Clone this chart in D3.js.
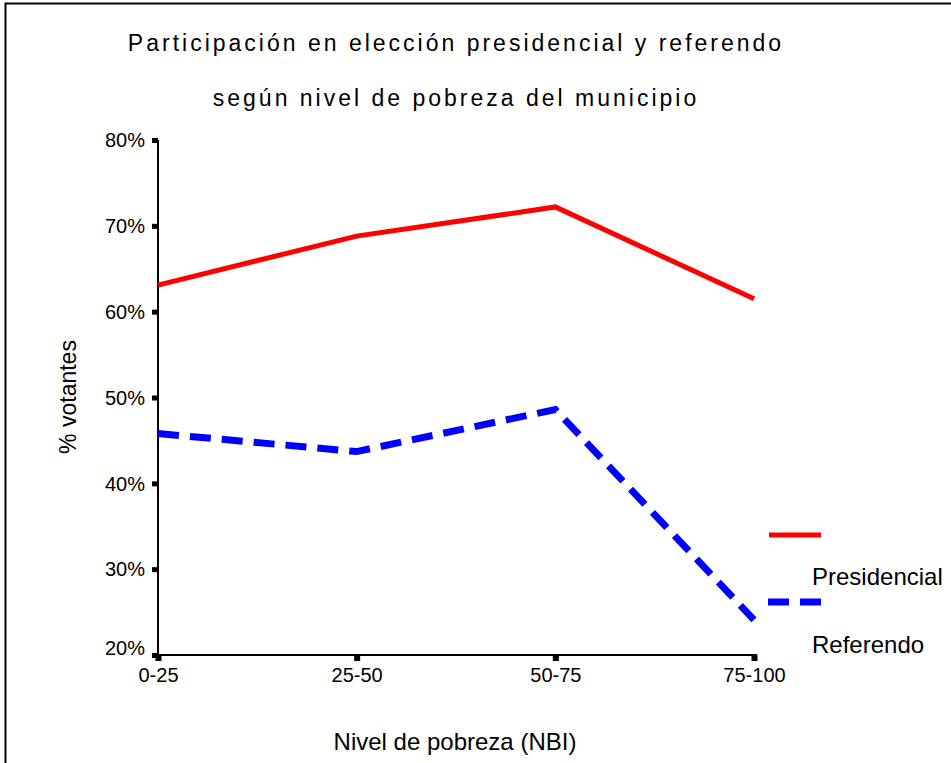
<!DOCTYPE html>
<html>
<head>
<meta charset="utf-8">
<script src="https://cdn.jsdelivr.net/npm/d3@7"></script>
<style>
  body { margin: 0; background: #fff; }
  svg { display: block; font-family: "Liberation Sans", Arial, sans-serif; }
</style>
</head>
<body>
<div class="chart"></div>
<script>
// data
const categories = ["0-25", "25-50", "50-75", "75-100"];
const presidencial = [63.1, 68.8, 72.2, 61.5];
const referendo = [45.8, 43.7, 48.6, 24.1];
const yTicks = [20, 30, 40, 50, 60, 70, 80];
const seriesNames = ["Presidencial", "Referendo"];

let width = 951, height = 763;

let svg = d3.select(".chart")
    .append("svg")
    .attr("width", width)
    .attr("height", height);

// frame
svg.append("path")
    .attr("d", "M5.5,763 V3.5 H951")
    .attr("fill", "none")
    .attr("stroke", "#000")
    .attr("stroke-width", 2);

// scales
let x = d3.scalePoint()
    .domain(categories)
    .range([158, 754]);

let y = d3.scaleLinear()
    .domain([20, 80])
    .range([655, 140]);

// title
svg.append("text")
    .attr("x", 456).attr("y", 51)
    .attr("text-anchor", "middle")
    .style("font-size", "23px")
    .style("letter-spacing", "3px")
    .text("Participación en elección presidencial y referendo");
svg.append("text")
    .attr("x", 456).attr("y", 106)
    .attr("text-anchor", "middle")
    .style("font-size", "23px")
    .style("letter-spacing", "3px")
    .text("según nivel de pobreza del municipio");

// y axis
let yAxis = svg.append("g")
    .attr("transform", "translate(158,0)")
    .call(d3.axisLeft(y).tickValues(yTicks).tickFormat(d => d + "%").tickSize(0).tickPadding(13));
yAxis.select(".domain").attr("stroke", "#000").attr("stroke-width", 2).attr("d", "M0," + y(80) + "V" + (y(20) + 1));
yAxis.selectAll("text")
    .style("font-size", "20px")
    .attr("fill", "#000")
    .attr("dy", d => d === 20 ? "-0.05em" : "0.34em");
yAxis.selectAll(".tick").append("rect")
    .attr("x", -6).attr("y", -2.5)
    .attr("width", 6).attr("height", 5)
    .attr("fill", "#000");

// x axis
let xAxis = svg.append("g")
    .attr("transform", "translate(0,655)")
    .call(d3.axisBottom(x).tickSize(0).tickPadding(13));
xAxis.select(".domain").attr("stroke", "#000").attr("stroke-width", 2).attr("d", "M157," + 0 + "H" + 757);
xAxis.selectAll("text")
    .style("font-size", "20px")
    .attr("fill", "#000");
xAxis.selectAll(".tick").append("rect")
    .attr("x", -3).attr("y", 0)
    .attr("width", 6).attr("height", 6)
    .attr("fill", "#000");

// axis labels
svg.append("text")
    .attr("x", 455).attr("y", 750)
    .attr("text-anchor", "middle")
    .style("font-size", "24px")
    .text("Nivel de pobreza (NBI)");
svg.append("text")
    .attr("transform", "translate(76,397)rotate(-90)")
    .attr("text-anchor", "middle")
    .style("font-size", "23px")
    .text("% votantes");

// lines
let line = d3.line()
    .x((d, i) => x(categories[i]))
    .y(d => y(d));

svg.append("path")
    .datum(presidencial)
    .attr("d", line)
    .attr("fill", "none")
    .attr("stroke", "#ff0000")
    .attr("stroke-width", 5);

svg.append("path")
    .datum(referendo)
    .attr("d", line)
    .attr("fill", "none")
    .attr("stroke", "#0000ff")
    .attr("stroke-width", 7)
    .attr("stroke-dasharray", "21,11");

// legend
let legend = svg.append("g");
legend.append("line")
    .attr("x1", 769).attr("x2", 821)
    .attr("y1", 535).attr("y2", 535)
    .attr("stroke", "#ff0000").attr("stroke-width", 5);
legend.append("line")
    .attr("x1", 768).attr("x2", 822)
    .attr("y1", 602).attr("y2", 602)
    .attr("stroke", "#0000ff").attr("stroke-width", 7)
    .attr("stroke-dasharray", "21,11");
legend.selectAll(".lbl")
    .data(seriesNames)
    .enter()
    .append("text")
    .attr("x", 812)
    .attr("y", (d, i) => 585 + i * 68)
    .style("font-size", "24px")
    .text(d => d);
</script>
</body>
</html>
